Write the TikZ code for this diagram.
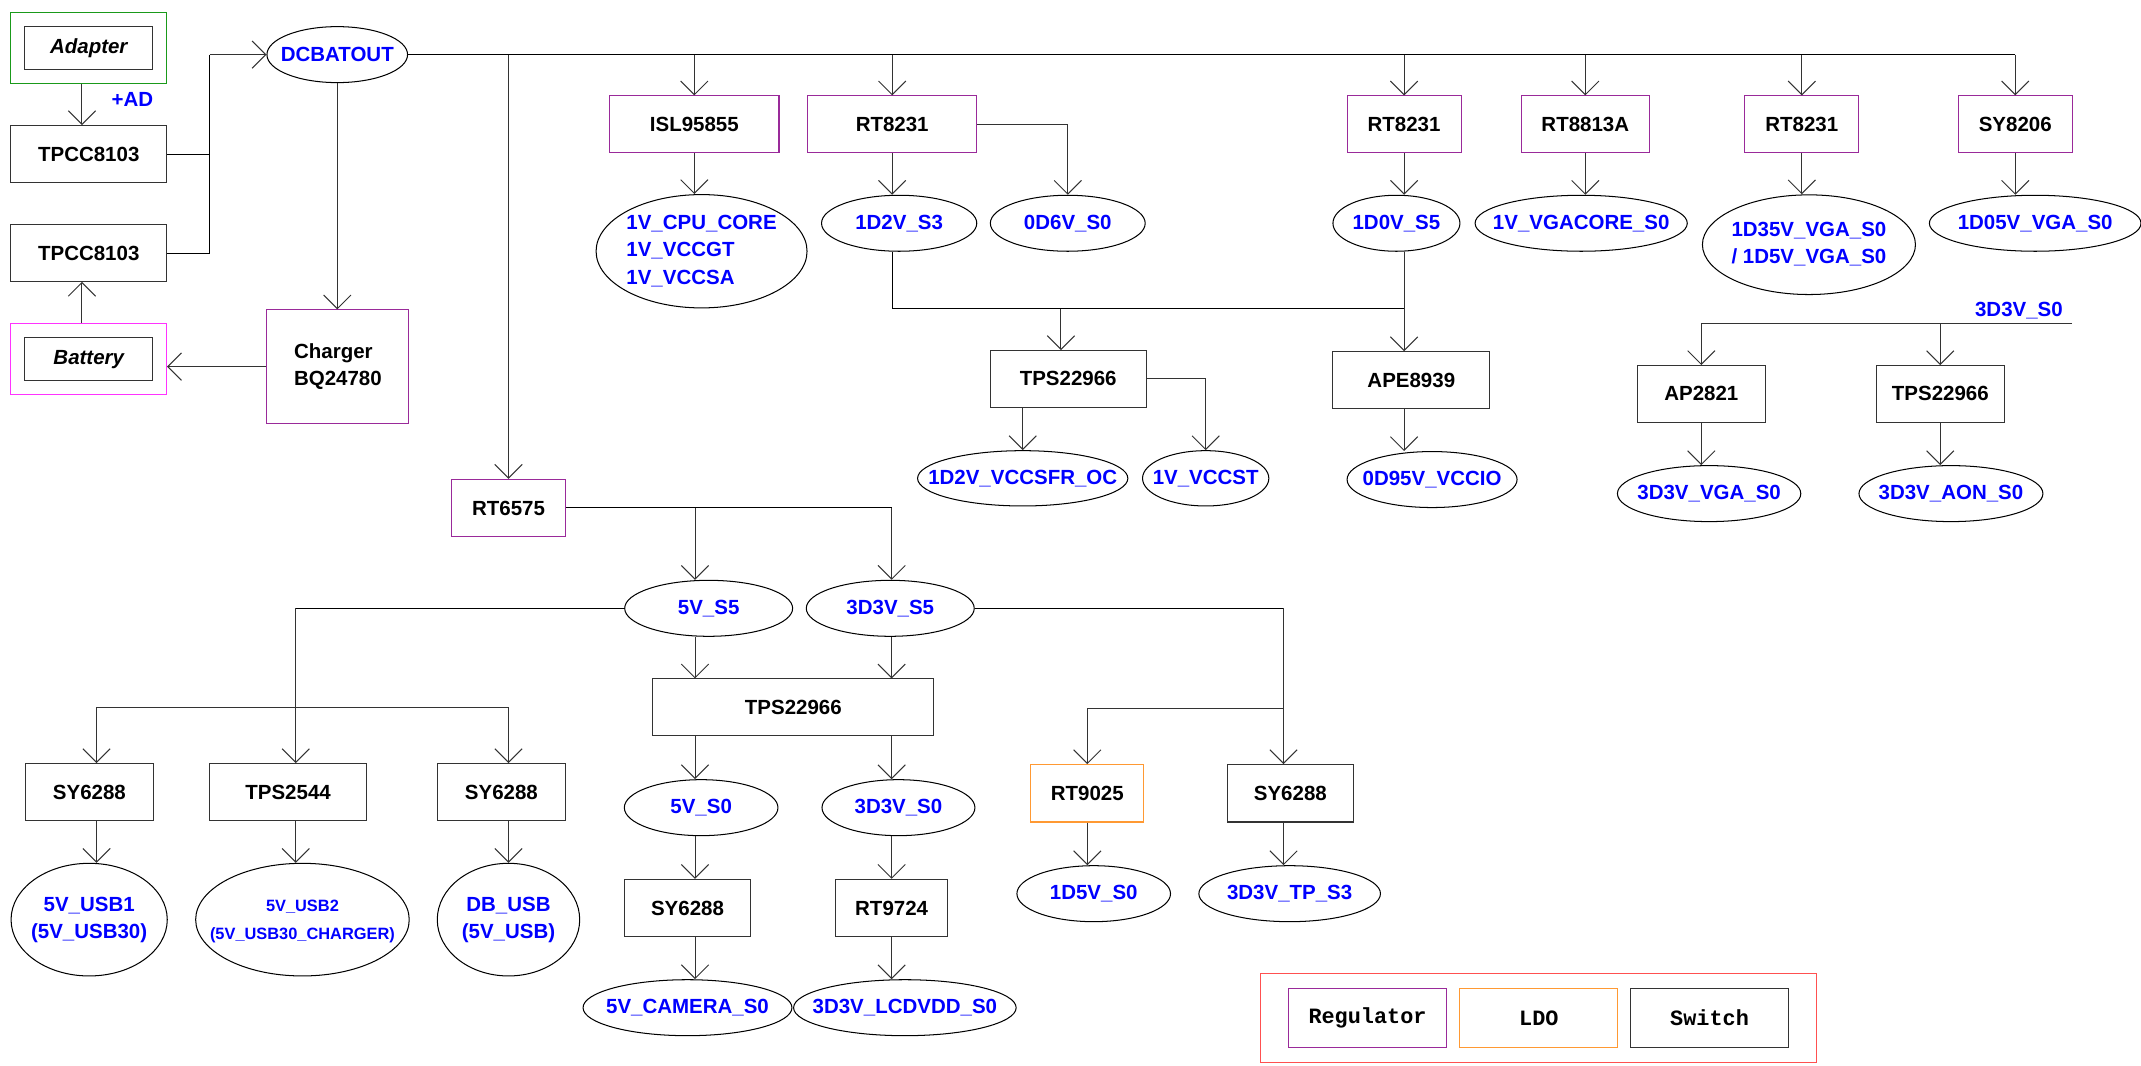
\documentclass[tikz,border=0pt]{standalone}
\usepackage{fontspec}
\setmainfont{Liberation Sans}
\newfontfamily\legendfont{Liberation Mono}
\usetikzlibrary{arrows.meta,positioning,calc,shapes.geometric}
\definecolor{ink}{HTML}{333333}
\definecolor{railblue}{HTML}{0000FF}
\definecolor{regc}{HTML}{9A2A9A}
\definecolor{ldoc}{HTML}{FF9933}
\definecolor{adapterc}{HTML}{1A9A1A}
\definecolor{battc}{HTML}{FF33FF}
\definecolor{legendc}{HTML}{FF5050}
\newcommand{\oneline}[1]{\makebox[0pt]{#1}}

\begin{document}
\begin{tikzpicture}[x=1pt,y=-1pt,line width=.75pt,
  every node/.style={font=\fontsize{15}{20}\selectfont\bfseries},
  box/.style={draw=ink,minimum height=41.5,inner sep=0pt},
  reg/.style={box,draw=regc},
  ldo/.style={box,draw=ldoc},
  rail/.style={ellipse,draw=black,minimum height=41,inner sep=0pt,text=railblue},
  arr/.style={-{Straight Barb[length=10pt,width=20pt]},draw=ink}]
  \useasboundingbox (0,0) rectangle (1568,780);

  % inputs and charger
  \node[draw=adapterc,minimum width=114,minimum height=52] (adapterbox) at (65,35) {};
  \node[box,minimum width=94,minimum height=31.5,font=\fontsize{15}{20}\selectfont\bfseries\itshape] (adapter) at (65,35) {Adapter};
  \node[box,minimum width=114,minimum height=42] (tpccA) at (65,113) {TPCC8103};
  \node[box,minimum width=114,minimum height=41.5] (tpccB) at (65,185.3) {TPCC8103};
  \node[draw=battc,minimum width=114,minimum height=52] (battbox) at (65,263) {};
  \node[box,minimum width=94,minimum height=31,font=\fontsize{15}{20}\selectfont\bfseries\itshape] (battery) at (65,263) {Battery};
  \node[text=railblue] (ad) at (97,73) {+AD};
  \node[rail,minimum width=103] (dcbat) at (247,40) {\oneline{DCBATOUT}};
  \node[reg,minimum width=104,minimum height=83,align=left] (charger) at (247.5,268.5) {Charger\\BQ24780};
  \coordinate (join) at (153.5,40);
  \draw[arr] ([xshift=-5pt]adapterbox.south) -- ([xshift=-5pt]tpccA.north);
  \draw[arr] ([xshift=-5pt]battbox.north) -- ([xshift=-5pt]tpccB.south);
  \draw (tpccA.east) -| (join);
  \draw (tpccB.east) -| (join);
  \draw[arr] (join) -- (dcbat.west);
  \draw[arr] (dcbat.south) -- (dcbat.south |- charger.north);
  \draw[arr] (charger.west) -- (charger.west -| battbox.east);

  % top regulators
  \node[reg,minimum width=124] (isl) at (508.5,91) {ISL95855};
  \node[reg,minimum width=124] (rtA) at (653.4,91) {RT8231};
  \node[reg,minimum width=83.5] (rtB) at (1028.3,91) {RT8231};
  \node[reg,minimum width=94] (rt8813) at (1161,91) {RT8813A};
  \node[reg,minimum width=83.5] (rtC) at (1319.6,91) {RT8231};
  \node[reg,minimum width=83.5] (sy8206) at (1475.9,91) {SY8206};
  \node[reg,minimum width=83.4,minimum height=42] (rt6575) at (372.4,372) {RT6575};
  \draw (dcbat.east) -- (sy8206.north |- dcbat.east);
  \draw[arr] (rt6575.north |- dcbat.east) -- (rt6575.north);
  \draw[arr] (isl.north |- dcbat.east) -- (isl.north);
  \draw[arr] (rtA.north |- dcbat.east) -- (rtA.north);
  \draw[arr] (rtB.north |- dcbat.east) -- (rtB.north);
  \draw[arr] (rt8813.north |- dcbat.east) -- (rt8813.north);
  \draw[arr] (rtC.north |- dcbat.east) -- (rtC.north);
  \draw[arr] (sy8206.north |- dcbat.east) -- (sy8206.north);

  \node[rail,minimum width=154.5,minimum height=83,inner ysep=-2pt] (cpu) at (513.8,184) {\oneline{\begin{tabular}{@{}l@{}}1V\_CPU\_CORE\\1V\_VCCGT\\1V\_VCCSA\end{tabular}}};
  \node[rail,minimum width=113.7] (s3) at (658.5,163.5) {\oneline{1D2V\_S3}};
  \node[rail,minimum width=113.4] (d6) at (782,163.5) {\oneline{0D6V\_S0}};
  \node[rail,minimum width=93] (s5d) at (1022.7,163.5) {\oneline{1D0V\_S5}};
  \node[rail,minimum width=155.4] (vgacore) at (1158,163.5) {\oneline{1V\_VGACORE\_S0}};
  \node[rail,minimum width=156,minimum height=73] (vga135) at (1324.8,179.2) {\oneline{\begin{tabular}{@{}l@{}}1D35V\_VGA\_S0\\/ 1D5V\_VGA\_S0\end{tabular}}};
  \node[rail,minimum width=155] (vga105) at (1490.5,163.5) {\oneline{1D05V\_VGA\_S0}};
  \draw[arr] (isl.south) -- (isl.south |- cpu.north);
  \draw[arr] (rtA.south) -- (rtA.south |- s3.north);
  \draw[arr] (rtA.east) -| (d6.north);
  \draw[arr] (rtB.south) -- (rtB.south |- s5d.north);
  \draw[arr] (rt8813.south) -- (rt8813.south |- vgacore.north);
  \draw[arr] (rtC.south) -- (rtC.south |- vga135.north);
  \draw[arr] (sy8206.south) -- (sy8206.south |- vga105.north);

  % 1D2V_S3 / 1D0V_S5 loads
  \node[box,minimum width=114] (tpsU) at (782.3,277.5) {TPS22966};
  \node[box,minimum width=115] (ape) at (1033.6,278.3) {APE8939};
  \node[rail,minimum width=154,minimum height=40.5] (vcsfr) at (749,350.3) {\oneline{1D2V\_VCCSFR\_OC}};
  \node[rail,minimum width=92.5,minimum height=40.5] (vccst) at (883,350.3) {\oneline{1V\_VCCST}};
  \node[rail,minimum width=124.5] (vccio) at (1048.8,351.2) {\oneline{0D95V\_VCCIO}};
  \coordinate (busmid) at (777,226);
  \draw (rtA.south |- s3.south) |- (rtB.south |- busmid);
  \draw[arr] (busmid) -- (busmid |- tpsU.north);
  \draw[arr] (rtB.south |- s5d.south) -- (rtB.south |- ape.north);
  \draw[arr] (tpsU.south -| vcsfr.north) -- (vcsfr.north);
  \draw[arr] (tpsU.east) -| (vccst.north);
  \draw[arr] (rtB.south |- ape.south) -- (rtB.south |- vccio.north);

  % 3D3V_S0 loads
  \node[text=railblue,anchor=base east] (lbl33) at (1514.4,232) {3D3V\_S0};
  \coordinate (rail33) at (1517.6,236.8);
  \node[box,minimum width=93.4] (ap) at (1246,288.5) {AP2821};
  \node[box,minimum width=94] (tps3) at (1421,288.5) {TPS22966};
  \node[rail,minimum width=134.3] (vga33) at (1251.7,361.5) {\oneline{3D3V\_VGA\_S0}};
  \node[rail,minimum width=134.7] (aon) at (1428.8,361.5) {\oneline{3D3V\_AON\_S0}};
  \draw[arr] (rail33) -| (ap.north);
  \draw[arr] (tps3.north |- rail33) -- (tps3.north);
  \draw[arr] (ap.south) -- (ap.south |- vga33.north);
  \draw[arr] (tps3.south) -- (tps3.south |- aon.north);

  % RT6575 rails
  \node[rail,minimum width=123] (v5s5) at (519,445.5) {\oneline{5V\_S5}};
  \node[rail,minimum width=123] (v33s5) at (652,445.5) {\oneline{3D3V\_S5}};
  \node[box,minimum width=206] (tpsB) at (581,518) {TPS22966};
  \node[rail,minimum width=112.5] (v5s0) at (513.5,591.5) {\oneline{5V\_S0}};
  \node[rail,minimum width=112] (v33s0) at (658,591.5) {\oneline{3D3V\_S0}};
  \node[box,minimum width=92.5,minimum height=42] (sycam) at (503.5,665) {SY6288};
  \node[box,minimum width=82,minimum height=42] (rt9724) at (653,665) {RT9724};
  \node[rail,minimum width=153] (vcam) at (503.5,738) {\oneline{5V\_CAMERA\_S0}};
  \node[rail,minimum width=163] (vlcd) at (662.7,738) {\oneline{3D3V\_LCDVDD\_S0}};
  \coordinate (colA) at (509,372);
  \coordinate (colB) at (653,372);
  \draw (rt6575.east) -- (colB);
  \draw[arr] (colA) -- (colA |- v5s5.north);
  \draw[arr] (colB) -- (colB |- v33s5.north);
  \draw[arr] (colA |- v5s5.south) -- (colA |- tpsB.north);
  \draw[arr] (colB |- v33s5.south) -- (colB |- tpsB.north);
  \draw[arr] (colA |- tpsB.south) -- (colA |- v5s0.north);
  \draw[arr] (colB |- tpsB.south) -- (colB |- v33s0.north);
  \draw[arr] (colA |- v5s0.south) -- (colA |- sycam.north);
  \draw[arr] (colB |- v33s0.south) -- (colB |- rt9724.north);
  \draw[arr] (colA |- sycam.south) -- (colA |- vcam.north);
  \draw[arr] (colB |- rt9724.south) -- (colB |- vlcd.north);

  % USB ports
  \node[box,minimum width=94] (sya) at (65.5,580) {SY6288};
  \node[box,minimum width=114.6] (tps2544) at (211,580) {TPS2544};
  \node[box,minimum width=94] (syc) at (367.2,580) {SY6288};
  \node[rail,minimum width=114.4,minimum height=82.5] (usb1) at (65.3,673.5) {\oneline{\begin{tabular}{@{}c@{}}5V\_USB1\\(5V\_USB30)\end{tabular}}};
  \node[rail,minimum width=156.4,minimum height=82.5] (usb2) at (221.5,673.5) {\oneline{\fontsize{12}{21}\selectfont\begin{tabular}{@{}c@{}}5V\_USB2\\(5V\_USB30\_CHARGER)\end{tabular}}};
  \node[rail,minimum width=104.3,minimum height=82.5] (dbusb) at (372.4,673.5) {\oneline{\begin{tabular}{@{}c@{}}DB\_USB\\(5V\_USB)\end{tabular}}};
  \coordinate (usbtap) at (216.6,445.5);
  \coordinate (usbL) at (70.7,517.8);
  \coordinate (usbR) at (372.4,517.8);
  \draw (v5s5.west) -- (usbtap);
  \draw[arr] (usbtap) -- (usbtap |- tps2544.north);
  \draw[arr] (usbtap |- usbL) -- (usbL) -- (usbL |- sya.north);
  \draw[arr] (usbtap |- usbL) -- (usbR) -- (usbR |- syc.north);
  \draw[arr] (usbL |- sya.south) -- (usbL |- usb1.north);
  \draw[arr] (usbtap |- tps2544.south) -- (usbtap |- usb2.north);
  \draw[arr] (usbR |- syc.south) -- (usbR |- dbusb.north);

  % 3D3V_S5 loads
  \node[ldo,minimum width=82.5,minimum height=42] (rt9025) at (796.3,581) {RT9025};
  \node[box,minimum width=92,minimum height=42] (syd) at (945,581) {SY6288};
  \node[rail,minimum width=112.5] (v15s0) at (801,654.5) {\oneline{1D5V\_S0}};
  \node[rail,minimum width=133] (tps3v) at (944.5,654.5) {\oneline{3D3V\_TP\_S3}};
  \coordinate (tapR) at (940,445.5);
  \coordinate (tapL) at (796.3,518.8);
  \draw (v33s5.east) -- (tapR);
  \draw[arr] (tapR) -- (tapR |- syd.north);
  \draw[arr] (tapR |- tapL) -- (tapL) -- (tapL |- rt9025.north);
  \draw[arr] (rt9025.south) -- (rt9025.south |- v15s0.north);
  \draw[arr] (tapR |- syd.south) -- (tapR |- tps3v.north);

  % legend
  \node[draw=legendc,minimum width=407,minimum height=65] (legend) at (1126.5,745.5) {};
  \node[reg,minimum width=115,minimum height=43,font=\legendfont\bfseries\fontsize{16}{18}\selectfont] (lreg) at (1001.5,745.5) {Regulator};
  \node[ldo,minimum width=115.6,minimum height=43,font=\legendfont\bfseries\fontsize{16}{18}\selectfont] (lldo) at (1127,745.5) {LDO};
  \node[box,minimum width=115.5,minimum height=43,font=\legendfont\bfseries\fontsize{16}{18}\selectfont] (lsw) at (1252,745.5) {Switch};
\end{tikzpicture}
\end{document}
